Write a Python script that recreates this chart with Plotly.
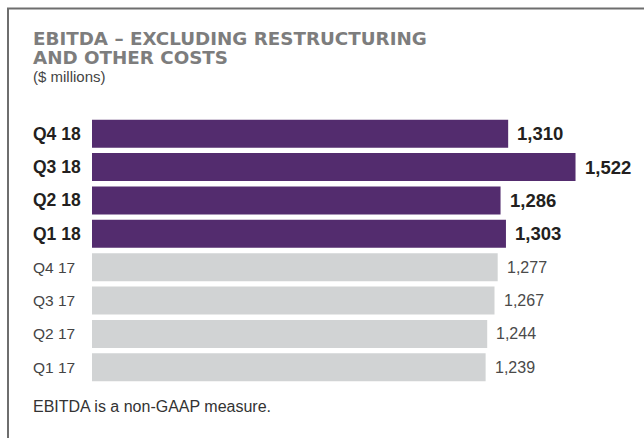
import plotly.graph_objects as go

# ---- data ----
quarters = ["Q4 18", "Q3 18", "Q2 18", "Q1 18", "Q4 17", "Q3 17", "Q2 17", "Q1 17"]
ebitda = [1310, 1522, 1286, 1303, 1277, 1267, 1244, 1239]
highlight = [True, True, True, True, False, False, False, False]

title_lines = ["EBITDA – EXCLUDING RESTRUCTURING", "AND OTHER COSTS"]
subtitle = "($ millions)"
footnote = "EBITDA is a non-GAAP measure."

# ---- layout geometry ----
W, H = 644, 438
L, R, T, B = 92, 24, 116.6, 54.2
PW = W - L - R
PH = H - T - B
XMAX = 1662

FONT = "Liberation Sans, Arial, Helvetica, sans-serif"
TITLE_FONT = "DejaVu Sans, Liberation Sans, Arial, sans-serif"
PURPLE = "#532c6e"
GRAY = "#d1d3d4"


def px_x(x):
    return (x - L) / PW


def px_y(y):
    return (H - B - y) / PH


hq = [q for q, h in zip(quarters, highlight) if h]
hv = [v for v, h in zip(ebitda, highlight) if h]
gq = [q for q, h in zip(quarters, highlight) if not h]
gv = [v for v, h in zip(ebitda, highlight) if not h]

fig = go.Figure()
fig.add_trace(go.Bar(y=hq, x=hv, orientation="h", width=0.84,
                     marker=dict(color=PURPLE, line=dict(width=0)),
                     hoverinfo="skip", showlegend=False))
fig.add_trace(go.Bar(y=gq, x=gv, orientation="h", width=0.84,
                     marker=dict(color=GRAY, line=dict(width=0)),
                     hoverinfo="skip", showlegend=False))

annotations = []
for q, v, h in zip(quarters, ebitda, highlight):
    # category label
    annotations.append(dict(
        x=px_x(31), xref="paper", y=q, yref="y", xanchor="left", yanchor="middle",
        text=f"<b>{q}</b>" if h else q, showarrow=False,
        font=dict(family=FONT, size=17.5 if h else 15.5,
                  color="#231f20" if h else "#444444")))
    # value label
    annotations.append(dict(
        x=v, xref="x", y=q, yref="y", xanchor="left", yanchor="middle",
        xshift=7, text=f"<b>{v:,}</b>" if h else f"{v:,}", showarrow=False,
        font=dict(family=FONT, size=18.5 if h else 16,
                  color="#231f20" if h else "#4a4a4a")))

annotations.append(dict(x=px_x(31), xref="paper", y=px_y(38.5), yref="paper",
                        xanchor="left", yanchor="middle", showarrow=False,
                        text=f"<b>{title_lines[0]}</b>",
                        font=dict(family=TITLE_FONT, size=18.3, color="#7d7d7d")))
annotations.append(dict(x=px_x(31), xref="paper", y=px_y(57), yref="paper",
                        xanchor="left", yanchor="middle", showarrow=False,
                        text=f"<b>{title_lines[1]}</b>",
                        font=dict(family=TITLE_FONT, size=18.3, color="#7d7d7d")))
annotations.append(dict(x=px_x(31), xref="paper", y=px_y(76.5), yref="paper",
                        xanchor="left", yanchor="middle", showarrow=False,
                        text=subtitle,
                        font=dict(family=FONT, size=15, color="#444444")))
annotations.append(dict(x=px_x(31), xref="paper", y=px_y(406), yref="paper",
                        xanchor="left", yanchor="middle", showarrow=False,
                        text=footnote,
                        font=dict(family=FONT, size=16, color="#333333")))

fig.update_layout(
    width=W, height=H,
    margin=dict(l=L, r=R, t=T, b=B, pad=0),
    paper_bgcolor="white", plot_bgcolor="white",
    barmode="overlay",
    xaxis=dict(range=[0, XMAX], visible=False, showgrid=False, zeroline=False, fixedrange=True),
    yaxis=dict(type="category", categoryorder="array", categoryarray=quarters,
               range=[7.5, -0.5], showticklabels=False, showgrid=False,
               zeroline=False, showline=False, ticks="", fixedrange=True),
    annotations=annotations,
    shapes=[dict(type="rect", xref="paper", yref="paper",
                 x0=px_x(8), x1=px_x(720), y0=px_y(8), y1=px_y(520),
                 line=dict(color="#6e6e6e", width=2), fillcolor="rgba(0,0,0,0)",
                 layer="above")],
    showlegend=False,
)

fig.write_html("out.html", config={"displayModeBar": False})
